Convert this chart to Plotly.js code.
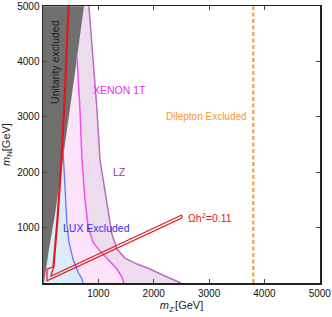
<!DOCTYPE html>
<html>
<head>
<meta charset="utf-8">
<script src="https://cdn.plot.ly/plotly-3.0.1.min.js"></script>
<style>html,body{margin:0;padding:0;background:#fff;}#chart{width:332px;height:317px;}</style>
</head>
<body>
<div id="chart"></div>
<script>
// Unitarity excluded boundary (m_Z', m_N) in GeV
const unitX = [740, 560, 361, 217, 108, 18];
const unitY = [5000, 3670, 2231, 1241, 612, 0];
// LZ projected exclusion boundary
const lzX = [830, 903, 975, 1029, 1137, 1245, 1336, 1480, 1697, 1931, 2202, 2473, 2490];
const lzY = [5000, 4030, 3130, 2231, 1511, 881, 612, 450, 342, 252, 126, 18, 0];
// XENON 1T boundary
const xenonX = [614, 668, 704, 758, 812, 902, 1029, 1209, 1336, 1426, 1462];
const xenonY = [4084, 3130, 2231, 1511, 1025, 738, 576, 396, 252, 108, 0];
// LUX excluded boundary
const luxX = [361, 379, 415, 433, 469, 542, 632, 704, 722];
const luxY = [2411, 2051, 1511, 1061, 738, 432, 198, 72, 0];
// Relic density contour Omega h^2 = 0.11 (closed thin loop)
const relicX = [451, 397, 325, 253, 180, 72, 72, 2498, 2515, 2498, 140, 198, 271, 343, 415, 469, 451];
const relicY = [5000, 3670, 2231, 1151, 290, 250, 40, 1170, 1197, 1224, 122, 300, 1151, 2231, 3670, 5000, 5000];
// Dilepton exclusion
const dileptonX = [3800, 3800];
const dileptonY = [0, 5000];
const xTicks = [1000, 2000, 3000, 4000, 5000];
const yTicks = [1000, 2000, 3000, 4000, 5000];

function poly(cx, cy) {
  return {x: [0].concat(cx, [0]), y: [cy[0]].concat(cy, [0])};
}
const lzP = poly(lzX, lzY), xeP = poly(xenonX, xenonY), luP = poly(luxX, luxY), unP = poly(unitX, unitY);

const traces = [
  {x: lzP.x, y: lzP.y, fill: 'toself', fillcolor: '#eddcee', line: {width: 0}, mode: 'lines', hoverinfo: 'skip'},
  {x: xeP.x, y: xeP.y, fill: 'toself', fillcolor: '#fde3f9', line: {width: 0}, mode: 'lines', hoverinfo: 'skip'},
  {x: luP.x, y: luP.y, fill: 'toself', fillcolor: '#dcebf8', line: {width: 0}, mode: 'lines', hoverinfo: 'skip'},
  {x: unP.x, y: unP.y, fill: 'toself', fillcolor: '#6f6f6f', line: {width: 0}, mode: 'lines', hoverinfo: 'skip'},
  {x: lzX, y: lzY, mode: 'lines', line: {color: '#b56cc2', width: 1.5}, hoverinfo: 'skip'},
  {x: xenonX, y: xenonY, mode: 'lines', line: {color: '#f050f0', width: 1.5}, hoverinfo: 'skip'},
  {x: luxX, y: luxY, mode: 'lines', line: {color: '#6a74f4', width: 1.3}, hoverinfo: 'skip'},
  {x: relicX, y: relicY, mode: 'lines', line: {color: '#e8141c', width: 1.2}, hoverinfo: 'skip'},
  {x: dileptonX, y: dileptonY, mode: 'lines', line: {color: '#f5962a', width: 2, dash: '4px,2.5px'}, hoverinfo: 'skip'}
];

const F = 'Liberation Sans, Arial, sans-serif';
const axisCommon = {
  range: [0, 5004], showgrid: false, zeroline: false,
  showline: true, linecolor: '#222', linewidth: 1.5, mirror: 'allticks',
  ticks: 'inside', ticklen: 4, tickcolor: '#444', tickwidth: 1,
  tickfont: {family: F, size: 10, color: '#111'}
};

const layout = {
  width: 332, height: 317,
  margin: {l: 43, r: 12, t: 6, b: 34},
  paper_bgcolor: '#fff', plot_bgcolor: '#fff',
  showlegend: false,
  xaxis: Object.assign({}, axisCommon, {tickvals: xTicks, ticktext: xTicks.map(String),
    title: {text: "<i>m</i><sub>Z'</sub>[GeV]", font: {family: F, size: 11, color: '#222'}, standoff: 4}}),
  yaxis: Object.assign({}, axisCommon, {tickvals: yTicks, ticktext: yTicks.map(String),
    title: {text: "<i>m</i><sub>N</sub>[GeV]", font: {family: F, size: 11, color: '#222'}, standoff: 5}}),
  annotations: [
    {x: 217, y: 3994, xref: 'x', yref: 'y', text: 'Unitarity excluded', textangle: -90, showarrow: false,
     font: {family: F, size: 10.5, color: '#222'}},
    {x: 1390, y: 3490, xref: 'x', yref: 'y', text: 'XENON 1T', showarrow: false,
     font: {family: F, size: 10.5, color: '#f028f0'}},
    {x: 1390, y: 1997, xref: 'x', yref: 'y', text: 'LZ', showarrow: false,
     font: {family: F, size: 10.5, color: '#9a3aa8'}},
    {x: 975, y: 989, xref: 'x', yref: 'y', text: 'LUX Excluded', showarrow: false,
     font: {family: F, size: 10.5, color: '#3030f0'}},
    {x: 2581, y: 1187, xref: 'x', yref: 'y', text: 'Ωh<sup>2</sup>=0.11', xanchor: 'left', showarrow: false,
     font: {family: F, size: 10.5, color: '#e8141c'}},
    {x: 3730, y: 3004, xref: 'x', yref: 'y', text: 'Dilepton Excluded', xanchor: 'right', showarrow: false,
     font: {family: F, size: 10, color: '#f5962a'}}
  ]
};

Plotly.newPlot('chart', traces, layout, {staticPlot: true, displayModeBar: false});
</script>
</body>
</html>
